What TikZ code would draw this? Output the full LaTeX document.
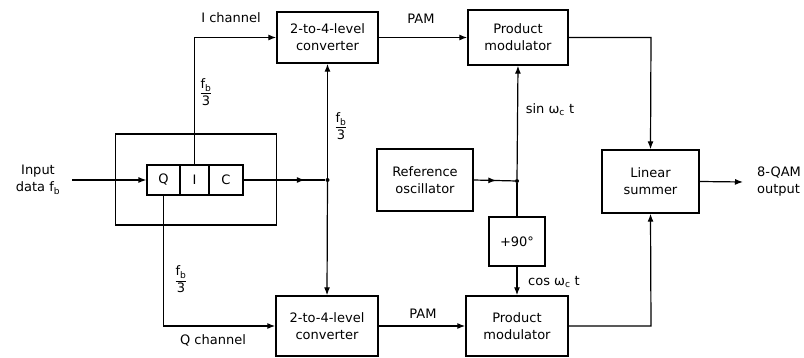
\documentclass[tikz,border=0pt]{standalone}
\usepackage{fontspec}
\usepackage{amsmath}
\setmainfont{DejaVu Sans}
\usetikzlibrary{arrows.meta,decorations.markings}
\begin{document}
\begin{tikzpicture}[x=1pt,y=-1pt,
  every node/.style={font=\fontsize{13}{17}\selectfont, inner sep=0pt},
  blk/.style={draw, line width=1.4pt, align=center},
  cell/.style={draw, line width=1.2pt, minimum height=30pt},
  lbl/.style={align=center},
  conn/.style={line width=1.2pt},
  tip/.style={-{Latex[length=8pt,width=6pt]}},
  midarr/.style={postaction={decorate}, decoration={markings,
     mark=at position #1 with {\arrow{Latex[length=8pt,width=6pt]}}}},
  dot/.style={circle, fill, inner sep=0pt, minimum size=4pt}
]
\useasboundingbox (0,0) rectangle (804,358);

% blocks
\node[blk, minimum width=161pt, minimum height=91pt] (outer) at (196,179.5) {};
\node[cell, minimum width=33pt] (Q) at (163.5,180) {Q};
\node[cell, minimum width=29pt] (I) at (194.5,180) {I};
\node[cell, minimum width=34pt] (C) at (226,180) {C};

\node[blk, minimum width=101pt, minimum height=51pt] (conv1) at (327.5,37.5) {2-to-4-level\\converter};
\node[blk, minimum width=102pt, minimum height=60pt] (conv2) at (327,326) {2-to-4-level\\converter};
\node[blk, minimum width=100pt, minimum height=55pt] (mod1) at (518,37.5) {Product\\modulator};
\node[blk, minimum width=102pt, minimum height=60pt] (mod2) at (517,326) {Product\\modulator};
\node[blk, minimum width=96pt, minimum height=62pt] (osc) at (425,180) {Reference\\oscillator};
\node[blk, minimum width=56pt, minimum height=49pt] (ph) at (517,241.5) {+90°};
\node[blk, minimum width=97pt, minimum height=63pt] (sum) at (650.5,181.5) {Linear\\summer};

% labels
\node[lbl] (inp) at (38,180) {Input\\data f\textsubscript{b}};
\node[lbl, align=left] (out) at (779,182) {8-QAM\\output};
\node (ich) at (231,18) {I channel};
\node (qch) at (213,340) {Q channel};
\node (pam1) at (421,19) {PAM};
\node (pam2) at (423,314) {PAM};
\node (sinl) at (550,110) {sin ω\textsubscript{c} t};
\node (cosl) at (554,282) {cos ω\textsubscript{c} t};
\node (fr1) at (206,92) {$\dfrac{\text{f}_\text{b}}{\text{3}}$};
\node (fr2) at (341,126) {$\dfrac{\text{f}_\text{b}}{\text{3}}$};
\node (fr3) at (181,279) {$\dfrac{\text{f}_\text{b}}{\text{3}}$};

% junctions
\node[dot] (j1) at (327.5,180) {};
\node[dot] (j2) at (517,181) {};
\coordinate (istart) at (72,180);
\coordinate (iup) at (194.5,37.5);
\coordinate (qdn) at (163.5,326);
\coordinate (o1) at (651,37.5);
\coordinate (o2) at (651,326);
\coordinate (qout) at (743,182);

% connectors
\draw[conn, tip] (istart) -- (Q.west);
\draw[conn, midarr=0.75] (C.east) -- (j1);
\draw[conn, tip] (I.north) -- (iup) -- (conv1.west);
\draw[conn, tip] (Q.south) -- (qdn) -- (conv2.west);
\draw[conn, tip] (j1) -- (conv1.south);
\draw[conn, tip] (j1) -- (conv2.north);
\draw[conn, tip] (conv1.east) -- (mod1.west);
\draw[conn, tip] (conv2.east) -- (mod2.west);
\draw[conn, tip] (mod1.east) -- (o1) -- (sum.north);
\draw[conn, tip] (mod2.east) -- (o2) -- (sum.south);
\draw[conn, midarr=0.55] (osc.east) -- (j2);
\draw[conn, tip] (j2) -- (mod1.south);
\draw[conn] (j2) -- (ph.north);
\draw[conn, tip] (ph.south) -- (mod2.north);
\draw[conn, tip] (sum.east) -- (qout);
\end{tikzpicture}
\end{document}
